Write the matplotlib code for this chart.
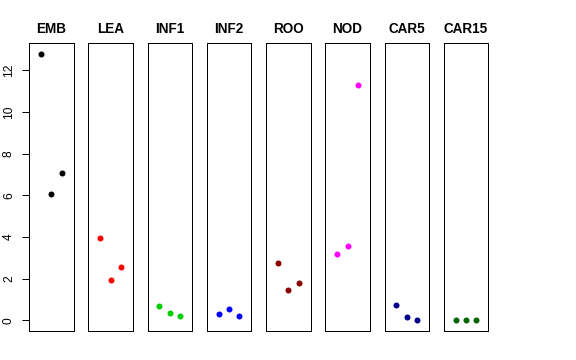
import matplotlib
matplotlib.use("Agg")
import matplotlib.pyplot as plt

plt.rcParams['font.family'] = ['Liberation Sans', 'DejaVu Sans']

# one panel per tissue, three replicates each
tissues = ['EMB', 'LEA', 'INF1', 'INF2', 'ROO', 'NOD', 'CAR5', 'CAR15']
replicate = [1, 2, 3]
values = [
    [12.78, 6.04, 7.08],
    [3.95, 1.93, 2.56],
    [0.70, 0.34, 0.22],
    [0.29, 0.53, 0.19],
    [2.73, 1.44, 1.77],
    [3.16, 3.58, 11.30],
    [0.73, 0.16, 0.00],
    [0.00, 0.00, 0.00],
]
colors = ['black', 'red', '#00CD00', 'blue', '#8B0000', 'magenta', '#00008B', '#006400']
yticks = [0, 2, 4, 6, 8, 10, 12]

W, H = 576, 360
fig = plt.figure(figsize=(W / 72, H / 72), dpi=72)

ymax = 12.8
ylim = (-0.04 * ymax, ymax * 1.04)

for i, (name, vals, col) in enumerate(zip(tissues, values, colors)):
    left = 29 + i * 59.25
    ax = fig.add_axes([left / W, (H - 331) / H, 44.5 / W, 288 / H])
    ax.plot(replicate, vals, 'o', color=col, markersize=6, markeredgewidth=0)
    ax.set_xlim(-0.16, 4.16)
    ax.set_ylim(*ylim)
    ax.set_xticks([])
    for s in ax.spines.values():
        s.set_linewidth(1)
        s.set_color('black')
    ax.set_title(name, fontsize=13.5, fontweight='bold', pad=9.5)
    if i == 0:
        ax.set_yticks(yticks)
        ax.set_yticklabels([str(t) for t in yticks], rotation=90, va='center', fontsize=12)
        ax.tick_params(axis='y', length=7, width=1, pad=7)
    else:
        ax.set_yticks([])

fig.savefig('out.png', dpi=72)
